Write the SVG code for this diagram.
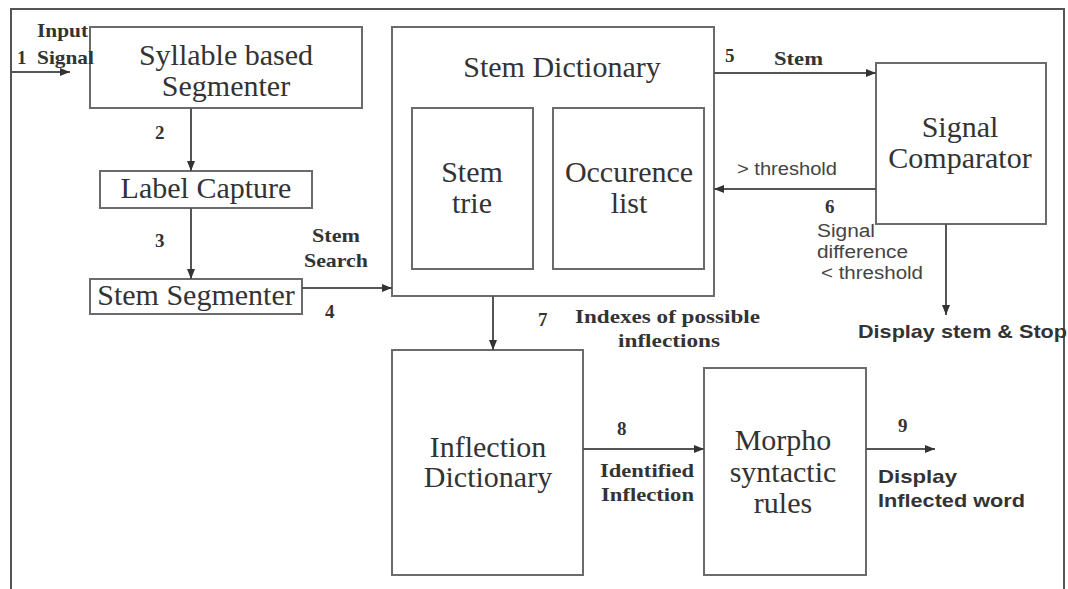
<svg xmlns="http://www.w3.org/2000/svg" width="1068" height="589" viewBox="0 0 1068 589">
<style>
.box{fill:#fff;stroke:#6b6b6b;stroke-width:2}
.ln{fill:none;stroke:#555;stroke-width:2}
.big{font-family:"Liberation Serif","Times New Roman",serif;font-size:30px;fill:#333;text-anchor:middle}
.lb{font-family:"Liberation Serif","Times New Roman",serif;font-size:19px;font-weight:bold;fill:#333}
.ss{font-family:"Liberation Sans",Arial,sans-serif;font-size:18px;fill:#444}
.sb{font-family:"Liberation Sans",Arial,sans-serif;font-size:19px;font-weight:bold;fill:#333}
</style>
<defs>
<marker id="ah" markerUnits="userSpaceOnUse" markerWidth="10" markerHeight="8" refX="10" refY="4" orient="auto">
<path d="M0,0 L10,4 L0,8 Z" fill="#333"/>
</marker>
</defs>
<rect width="1068" height="589" fill="#fff"/>
<path class="ln" d="M11,589 V9 H1064 V589"/>

<g id="syllable">
<rect class="box" x="90" y="27" width="272" height="81"/>
<text class="big" x="226" y="65">Syllable based</text>
<text class="big" x="226" y="96">Segmenter</text>
</g>
<g id="label-capture">
<rect class="box" x="100" y="171" width="212" height="37"/>
<text class="big" x="206" y="198">Label Capture</text>
</g>
<g id="stem-segmenter">
<rect class="box" x="90" y="279" width="212" height="35"/>
<text class="big" x="196" y="305">Stem Segmenter</text>
</g>
<g id="stem-dictionary">
<rect class="box" x="392" y="27" width="322" height="269"/>
<text class="big" x="562" y="77">Stem Dictionary</text>
</g>
<g id="stem-trie">
<rect class="box" x="412" y="108" width="121" height="161"/>
<text class="big" x="472" y="182">Stem</text>
<text class="big" x="472" y="213">trie</text>
</g>
<g id="occurence-list">
<rect class="box" x="553" y="108" width="151" height="161"/>
<text class="big" x="629" y="182">Occurence</text>
<text class="big" x="629" y="213">list</text>
</g>
<g id="signal-comparator">
<rect class="box" x="876" y="63" width="170" height="161"/>
<text class="big" x="960" y="137">Signal</text>
<text class="big" x="960" y="168">Comparator</text>
</g>
<g id="inflection-dictionary">
<rect class="box" x="392" y="350" width="191" height="225"/>
<text class="big" x="488" y="457">Inflection</text>
<text class="big" x="488" y="487">Dictionary</text>
</g>
<g id="morpho">
<rect class="box" x="704" y="368" width="162" height="207"/>
<text class="big" x="783" y="450">Morpho</text>
<text class="big" x="783" y="482">syntactic</text>
<text class="big" x="783" y="513">rules</text>
</g>

<g id="connectors">
<line class="ln" x1="11" y1="72" x2="70" y2="72" marker-end="url(#ah)"/>
<line class="ln" x1="191" y1="108" x2="191" y2="171" marker-end="url(#ah)"/>
<line class="ln" x1="191" y1="208" x2="191" y2="279" marker-end="url(#ah)"/>
<line class="ln" x1="302" y1="288" x2="392" y2="288" marker-end="url(#ah)"/>
<line class="ln" x1="714" y1="73" x2="876" y2="73" marker-end="url(#ah)"/>
<line class="ln" x1="876" y1="189" x2="714" y2="189" marker-end="url(#ah)"/>
<line class="ln" x1="946" y1="224" x2="946" y2="315" marker-end="url(#ah)"/>
<line class="ln" x1="493" y1="296" x2="493" y2="350" marker-end="url(#ah)"/>
<line class="ln" x1="583" y1="449" x2="704" y2="449" marker-end="url(#ah)"/>
<line class="ln" x1="866" y1="449" x2="935" y2="449" marker-end="url(#ah)"/>
</g>

<g id="labels">
<text class="lb" x="37" y="37" textLength="51" lengthAdjust="spacingAndGlyphs">Input</text>
<text class="lb" x="17" y="64">1</text>
<text class="lb" x="37" y="64" textLength="57" lengthAdjust="spacingAndGlyphs">Signal</text>
<text class="lb" x="155" y="139">2</text>
<text class="lb" x="155" y="247">3</text>
<text class="lb" x="312" y="242" textLength="48" lengthAdjust="spacingAndGlyphs">Stem</text>
<text class="lb" x="304" y="267" textLength="64" lengthAdjust="spacingAndGlyphs">Search</text>
<text class="lb" x="325" y="318">4</text>
<text class="lb" x="725" y="62">5</text>
<text class="lb" x="774" y="65" textLength="49" lengthAdjust="spacingAndGlyphs">Stem</text>
<text class="ss" x="737" y="175" textLength="100" lengthAdjust="spacingAndGlyphs">&gt; threshold</text>
<text class="lb" x="825" y="213">6</text>
<text class="ss" x="817" y="237" textLength="58" lengthAdjust="spacingAndGlyphs">Signal</text>
<text class="ss" x="817" y="258" textLength="91" lengthAdjust="spacingAndGlyphs">difference</text>
<text class="ss" x="821" y="279" textLength="102" lengthAdjust="spacingAndGlyphs">&lt; threshold</text>
<text class="sb" x="858" y="338" textLength="209" lengthAdjust="spacingAndGlyphs">Display stem &amp; Stop</text>
<text class="lb" x="538" y="326">7</text>
<text class="lb" x="575" y="323" textLength="185" lengthAdjust="spacingAndGlyphs">Indexes of possible</text>
<text class="lb" x="618" y="347" textLength="102" lengthAdjust="spacingAndGlyphs">inflections</text>
<text class="lb" x="617" y="435">8</text>
<text class="lb" x="600" y="477" textLength="94" lengthAdjust="spacingAndGlyphs">Identified</text>
<text class="lb" x="601" y="501" textLength="93" lengthAdjust="spacingAndGlyphs">Inflection</text>
<text class="lb" x="898" y="432">9</text>
<text class="sb" x="878" y="483" textLength="79" lengthAdjust="spacingAndGlyphs">Display</text>
<text class="sb" x="878" y="507" textLength="147" lengthAdjust="spacingAndGlyphs">Inflected word</text>
</g>
</svg>
